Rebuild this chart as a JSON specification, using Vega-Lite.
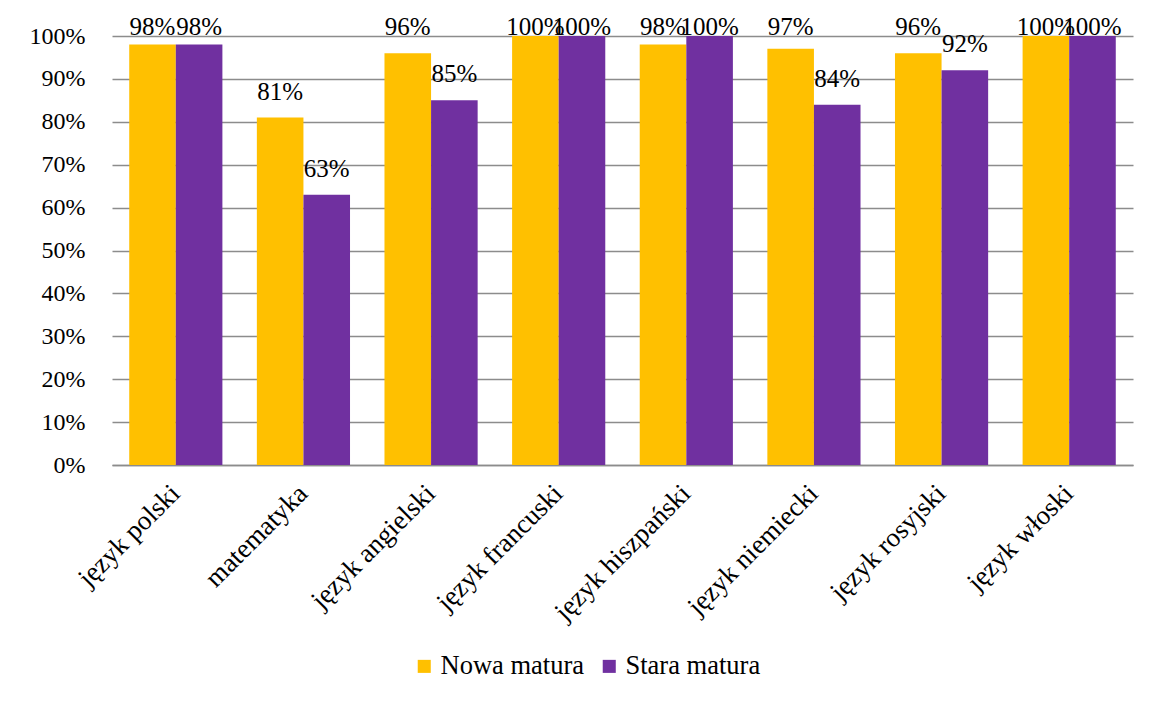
{
  "$schema": "https://vega.github.io/schema/vega-lite/v6.json",
  "autosize": {"type": "none"},
  "width": 1021,
  "height": 429,
  "padding": {"left": 112, "top": 36, "right": 24, "bottom": 237},
  "background": "white",
  "config": {
    "view": {"stroke": null},
    "font": "Liberation Serif",
    "text": {"font": "Liberation Serif"},
    "axis": {"labelFont": "Liberation Serif", "labelColor": "black"},
    "legend": {"labelFont": "Liberation Serif", "labelColor": "black"}
  },
  "data": {
    "values": [
      {"przedmiot": "język polski", "seria": "Nowa matura", "wartosc": 0.98},
      {"przedmiot": "język polski", "seria": "Stara matura", "wartosc": 0.98},
      {"przedmiot": "matematyka", "seria": "Nowa matura", "wartosc": 0.81},
      {"przedmiot": "matematyka", "seria": "Stara matura", "wartosc": 0.63},
      {"przedmiot": "język angielski", "seria": "Nowa matura", "wartosc": 0.96},
      {"przedmiot": "język angielski", "seria": "Stara matura", "wartosc": 0.85},
      {"przedmiot": "język francuski", "seria": "Nowa matura", "wartosc": 1.0},
      {"przedmiot": "język francuski", "seria": "Stara matura", "wartosc": 1.0},
      {"przedmiot": "język hiszpański", "seria": "Nowa matura", "wartosc": 0.98},
      {"przedmiot": "język hiszpański", "seria": "Stara matura", "wartosc": 1.0},
      {"przedmiot": "język niemiecki", "seria": "Nowa matura", "wartosc": 0.97},
      {"przedmiot": "język niemiecki", "seria": "Stara matura", "wartosc": 0.84},
      {"przedmiot": "język rosyjski", "seria": "Nowa matura", "wartosc": 0.96},
      {"przedmiot": "język rosyjski", "seria": "Stara matura", "wartosc": 0.92},
      {"przedmiot": "język włoski", "seria": "Nowa matura", "wartosc": 1.0},
      {"przedmiot": "język włoski", "seria": "Stara matura", "wartosc": 1.0}
    ]
  },
  "encoding": {
    "x": {
      "field": "przedmiot",
      "type": "nominal",
      "sort": null,
      "scale": {"paddingInner": 0.27, "paddingOuter": 0.135},
      "axis": {
        "title": null,
        "labelAngle": -45,
        "labelAlign": "right",
        "labelBaseline": "middle",
        "labelFont": "Liberation Serif",
        "labelFontSize": 27,
        "labelPadding": 24,
        "labelLimit": 400,
        "ticks": false,
        "domainColor": "#8c8c8c",
        "domainWidth": 1.5,
        "grid": false
      }
    },
    "xOffset": {"field": "seria", "type": "nominal", "scale": {"paddingInner": 0}}
  },
  "layer": [
    {
      "mark": {"type": "bar"},
      "encoding": {
        "y": {
          "field": "wartosc",
          "type": "quantitative",
          "scale": {"domain": [0, 1], "nice": false},
          "axis": {
            "title": null,
            "format": ".0%",
            "values": [0, 0.1, 0.2, 0.3, 0.4, 0.5, 0.6, 0.7, 0.8, 0.9, 1.0],
            "labelFont": "Liberation Serif",
            "labelFontSize": 24,
            "labelPadding": 27,
            "ticks": false,
            "domain": false,
            "gridColor": "#8c8c8c",
            "gridWidth": 1.5
          }
        },
        "color": {
          "field": "seria",
          "type": "nominal",
          "scale": {"domain": ["Nowa matura", "Stara matura"], "range": ["#FFC000", "#7030A0"]},
          "legend": {
            "title": null,
            "orient": "none",
            "legendX": 299,
            "legendY": 617,
            "direction": "horizontal",
            "symbolType": "square",
            "symbolSize": 170,
            "symbolStrokeWidth": 0,
            "labelFont": "Liberation Serif",
            "labelFontSize": 26.5,
            "labelOffset": 3,
            "columnPadding": 12
          }
        }
      }
    },
    {
      "mark": {"type": "text", "baseline": "alphabetic", "dy": -18, "fontSize": 25, "font": "Liberation Serif", "color": "black"},
      "encoding": {
        "y": {
          "field": "wartosc",
          "type": "quantitative",
          "scale": {
            "domain": [0, 0.9604],
            "range": [{"expr": "height"}, {"expr": "height * 0.0396"}],
            "clamp": true,
            "nice": false,
            "zero": false
          },
          "axis": null
        },
        "text": {"field": "wartosc", "type": "quantitative", "format": ".0%"}
      }
    }
  ],
  "resolve": {"scale": {"y": "independent"}}
}
